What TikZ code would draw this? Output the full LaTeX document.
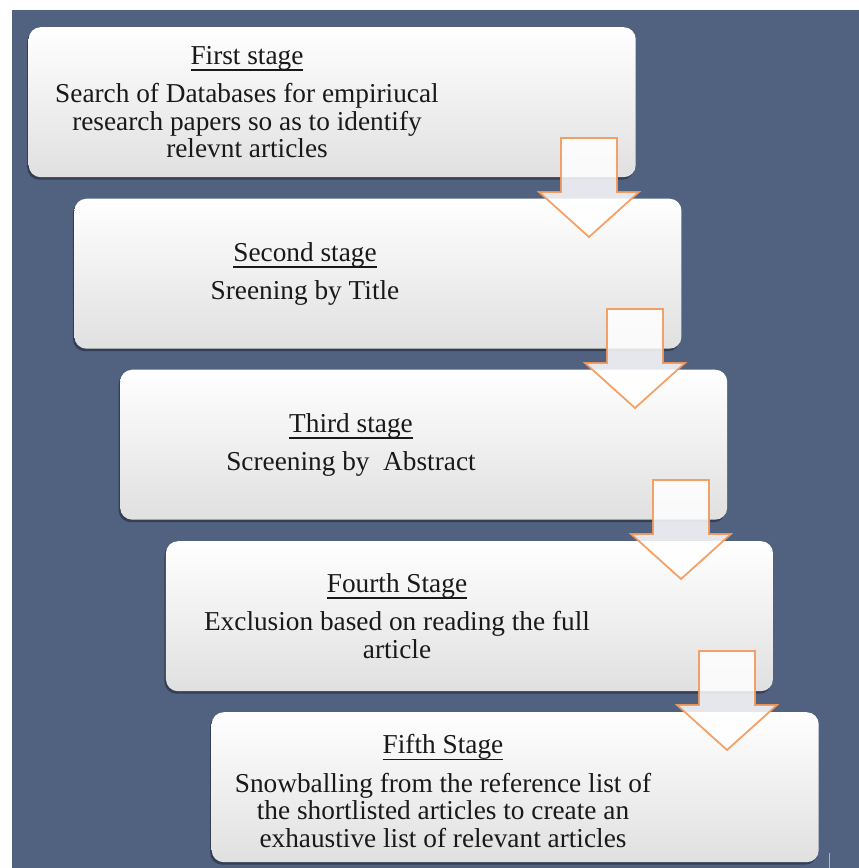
\documentclass[tikz,border=0pt]{standalone}
\usepackage{fontspec}
\setmainfont{Liberation Serif}
\usetikzlibrary{shadows}

\definecolor{panel}{RGB}{81,98,129}
\definecolor{boxbottom}{RGB}{224,224,224}
\definecolor{arrowline}{RGB}{244,152,88}
\definecolor{marker}{RGB}{200,180,140}

% underlined stage heading, rule sits just under the baseline
\newcommand\stagehead[1]{\setbox0\hbox{#1}\rlap{\rule[-6.5pt]{\wd0}{1.5pt}}\box0}

\begin{document}
\begin{tikzpicture}[x=1pt,y=-1pt,
  stagebox/.style={rounded corners=12pt, draw=none,
    top color=white, middle color=white!97!black, bottom color=boxbottom,
    minimum width=607pt, minimum height=150pt, anchor=north west,
    drop shadow={shadow xshift=-1.5pt, shadow yshift=-2.5pt, opacity=0.35, fill=black}},
  stagetext/.style={align=center, inner sep=0pt, text=black!90,
    font=\fontsize{27.3}{27.5}\selectfont},
  stagearrow/.style={draw=arrowline, line width=1.8pt, draw opacity=0.9,
    fill=white, fill opacity=0.85, line join=miter},
  downarrow/.pic={\draw[stagearrow] (-28,0) -- (28,0) -- (28,54) -- (50,54)
    -- (0,99) -- (-50,54) -- (-28,54) -- cycle;}]

% page and panel
\fill[white] (0,0) rectangle (859,868);
\useasboundingbox (0,0) rectangle (859,868);
\fill[panel] (12,10) rectangle (859,868);

% stage boxes
\node[stagebox] (b1) at (28.5,27) {};
\node[stagebox] (b2) at (74.25,198.5) {};
\node[stagebox] (b3) at (120,369.5) {};
\node[stagebox] (b4) at (165.75,541) {};
\node[stagebox] (b5) at (211.5,712) {};

% arrows between stages
\pic (a1) at (589,138) {downarrow};
\pic (a2) at (635,309) {downarrow};
\pic (a3) at (681,480) {downarrow};
\pic (a4) at (727,651) {downarrow};

% stage texts
\node[stagetext] (t1) at (247,102) {\stagehead{First stage}\\[11pt]
  Search of Databases for empiriucal\\ research papers so as to identify\\ relevnt articles};
\node[stagetext] (t2) at (305,274) {\stagehead{Second stage}\\[11pt] Sreening by Title};
\node[stagetext] (t3) at (351,445) {\stagehead{Third stage}\\[11pt] Screening by\ \ Abstract};
\node[stagetext] (t4) at (397,616) {\stagehead{Fourth Stage}\\[11pt]
  Exclusion based on reading the full\\ article};
\node[stagetext] (t5) at (443,791) {\stagehead{Fifth Stage}\\[11pt]
  Snowballing from the reference list of\\ the shortlisted articles to create an\\
  exhaustive list of relevant articles};

% small marker at the lower right
\draw[marker, line width=1pt] (829,853) -- (829,868);
\end{tikzpicture}
\end{document}
